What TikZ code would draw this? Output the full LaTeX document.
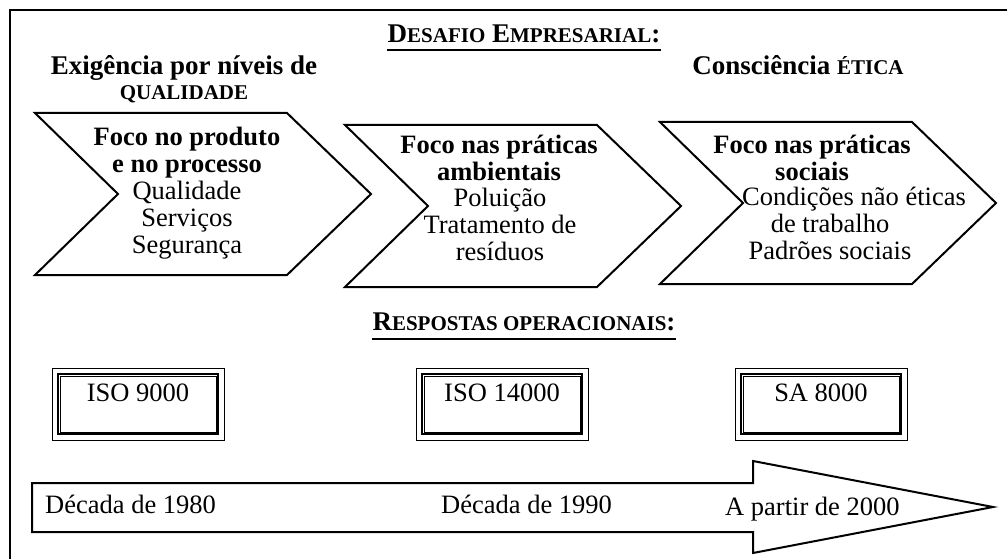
\documentclass[tikz,border=0pt]{standalone}
\usepackage{fontspec}
\setmainfont{Liberation Serif}
\newcommand\capsm[1]{{\fontsize{21}{21}\selectfont #1}}
\begin{document}
\begin{tikzpicture}[x=1pt,y=-1pt,
  pics/chevron/.style={code={
    \draw[line width=2pt] (0,0) -- (252,0) -- (336,81) -- (252,162)
      -- (0,162) -- (83,81) -- cycle;
  }},
  txt/.style={font=\fontsize{26.5}{27}\selectfont,align=center,
    inner sep=0pt,anchor=base},
  head/.style={txt,font=\fontsize{26.5}{27}\selectfont\bfseries},
  title/.style={font=\fontsize{27}{27}\selectfont\bfseries,
    inner sep=0pt,anchor=base},
  uline/.style={line width=2.5pt},
  isobox/.style={draw,line width=2pt,minimum width=160pt,inner sep=0pt,
    text height=27pt,text depth=33pt,anchor=north,
    font=\fontsize{26.5}{27}\selectfont}]
\useasboundingbox (0,0) rectangle (1007,559);
% moldura
\draw[line width=2pt] (10,559) -- (10,10) -- (1007,10);
% desafio empresarial (base = ultima linha)
\node[title] (desafio) at (524,43) {D\capsm{ESAFIO} E\capsm{MPRESARIAL}:};
\draw[uline] ([yshift=-7pt]desafio.base west) -- ([yshift=-7pt]desafio.base east);
\node[head,font=\fontsize{27}{25}\selectfont\bfseries] (exig) at (184,100)
  {Exigência por níveis de\\\capsm{QUALIDADE}};
\node[head,font=\fontsize{27}{25}\selectfont\bfseries] (consc) at (798,75)
  {Consciência \capsm{ÉTICA}};
% setas de foco
\path (35,113) pic{chevron} (345,125) pic{chevron} (660,122) pic{chevron};
\node[head] (foco1) at (187,172) {Foco no produto\\e no processo};
\node[txt] (itens1) at (187,253) {Qualidade\\Serviços\\Segurança};
\node[head] (foco2) at (499,180) {Foco nas práticas\\ambientais};
\node[txt] (itens2) at (500,260) {Poluição\\Tratamento de\\resíduos};
\node[head] (foco3) at (812,180) {Foco nas práticas\\sociais};
\node[txt] (itens3) at (830,259)
  {\hspace*{48pt}Condições não éticas\\de trabalho\\Padrões sociais};
% respostas operacionais
\node[title] (respostas) at (524,330) {R\capsm{ESPOSTAS OPERACIONAIS}:};
\draw[uline] ([yshift=-9pt]respostas.base west) -- ([yshift=-9pt]respostas.base east);
\node[isobox] (iso9) at (138,373) {ISO 9000};
\node[isobox] (iso14) at (502,373) {ISO 14000};
\node[isobox] (sa8) at (821,373) {SA 8000};
\foreach \b in {iso9,iso14,sa8}{
  \draw[line width=0.8pt] ([shift={(-5pt,5pt)}]\b.north west)
    rectangle ([shift={(5pt,-5pt)}]\b.south east);
  \draw[line width=0.8pt] ([shift={(3pt,-3pt)}]\b.north west)
    rectangle ([shift={(-3pt,3pt)}]\b.south east);
}
% linha do tempo
\draw[line width=2pt] (32,483) -- (753,483) -- (753,461) -- (993,507)
  -- (753,553) -- (753,532) -- (32,532) -- cycle;
\node[txt,anchor=base west] (dec80) at (45,513) {Década de 1980};
\node[txt,anchor=base west] (dec90) at (441,513) {Década de 1990};
\node[txt,anchor=base west] (dec00) at (725,515) {A partir de 2000};
\end{tikzpicture}
\end{document}
